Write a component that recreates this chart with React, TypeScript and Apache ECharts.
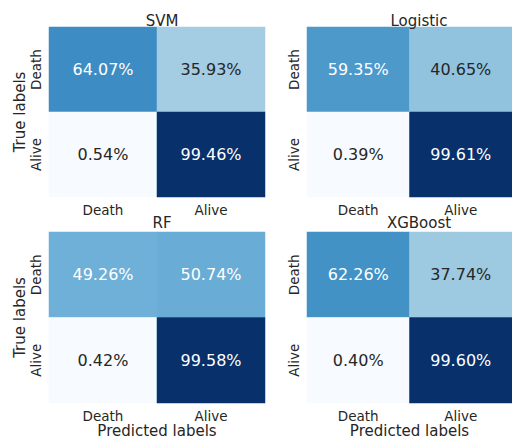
import React, { useEffect, useRef } from "react";
import * as echarts from "echarts";

const models = ["SVM", "Logistic", "RF", "XGBoost"];
const predictedLabels = ["Death", "Alive"];
const trueLabels = ["Death", "Alive"];
const svmValues = [[64.07, 35.93], [0.54, 99.46]];
const logisticValues = [[59.35, 40.65], [0.39, 99.61]];
const rfValues = [[49.26, 50.74], [0.42, 99.58]];
const xgbValues = [[62.26, 37.74], [0.40, 99.60]];
const matrices = [svmValues, logisticValues, rfValues, xgbValues];

const BLUES = ["#f7fbff", "#deebf7", "#c6dbef", "#9ecae1", "#6baed6", "#4292c6", "#2171b5", "#08519c", "#08306b"];
const FONT = "DejaVu Sans";
const TXT = "#262626";

export default function App() {
  const ref = useRef<HTMLDivElement>(null);
  useEffect(() => {
    document.body.style.margin = "0";
    const chart = echarts.init(ref.current!, null, { renderer: "svg" });
    const grids = [
      { left: 49, top: 27, width: 216, height: 170 },
      { left: 307, top: 27, width: 215, height: 170 },
      { left: 49, top: 232, width: 216, height: 171 },
      { left: 307, top: 232, width: 215, height: 171 },
    ];
    const titleLeft = [157, 414, 157, 414];
    const titleTop = [8, 8, 210, 210];
    const xAxis: any[] = [];
    const yAxis: any[] = [];
    const series: any[] = [];
    const visualMap: any[] = [];
    matrices.forEach((m, i) => {
      const flat = m.flat();
      const mn = Math.min(...flat);
      const mx = Math.max(...flat);
      const bottomRow = i >= 2;
      const leftCol = i % 2 === 0;
      xAxis.push({
        type: "category",
        gridIndex: i,
        data: predictedLabels,
        axisLine: { show: false },
        axisTick: { show: false },
        axisLabel: { color: TXT, fontSize: 13.5, fontFamily: FONT, margin: 6 },
        name: bottomRow ? "Predicted labels" : "",
        nameLocation: "middle",
        nameGap: 20,
        nameTextStyle: { color: TXT, fontSize: 15, fontFamily: FONT },
      });
      yAxis.push({
        type: "category",
        gridIndex: i,
        data: trueLabels,
        inverse: true,
        axisLine: { show: false },
        axisTick: { show: false },
        axisLabel: { color: TXT, fontSize: 13.5, fontFamily: FONT, rotate: 90, margin: 13, verticalAlign: "middle" },
        name: leftCol ? "True labels" : "",
        nameLocation: "middle",
        nameRotate: 90,
        nameGap: 22,
        nameTextStyle: { color: TXT, fontSize: 15, fontFamily: FONT },
      });
      const data: any[] = [];
      m.forEach((row, r) =>
        row.forEach((v, c) => {
          const t = (v - mn) / (mx - mn);
          data.push({
            value: [c, r, v],
            label: { color: t > 0.45 ? "#ffffff" : TXT },
          });
        })
      );
      series.push({
        type: "heatmap",
        xAxisIndex: i,
        yAxisIndex: i,
        data,
        itemStyle: { borderWidth: 0 },
        label: {
          show: true,
          fontSize: 16,
          fontFamily: FONT,
          formatter: (p: any) => p.value[2].toFixed(2) + "%",
        },
        emphasis: { disabled: true },
      });
      visualMap.push({
        type: "continuous",
        show: false,
        seriesIndex: i,
        dimension: 2,
        min: mn,
        max: mx,
        inRange: { color: BLUES },
      });
    });
    chart.setOption({
      animation: false,
      backgroundColor: "#ffffff",
      title: models.map((name, i) => ({
        text: name,
        left: titleLeft[i],
        top: titleTop[i],
        textAlign: "center",
        textStyle: { color: TXT, fontSize: 15, fontWeight: "normal", fontFamily: FONT },
      })),
      grid: grids,
      xAxis,
      yAxis,
      visualMap,
      series,
    });
    return () => chart.dispose();
  }, []);
  return <div ref={ref} style={{ width: 512, height: 443 }} />;
}
